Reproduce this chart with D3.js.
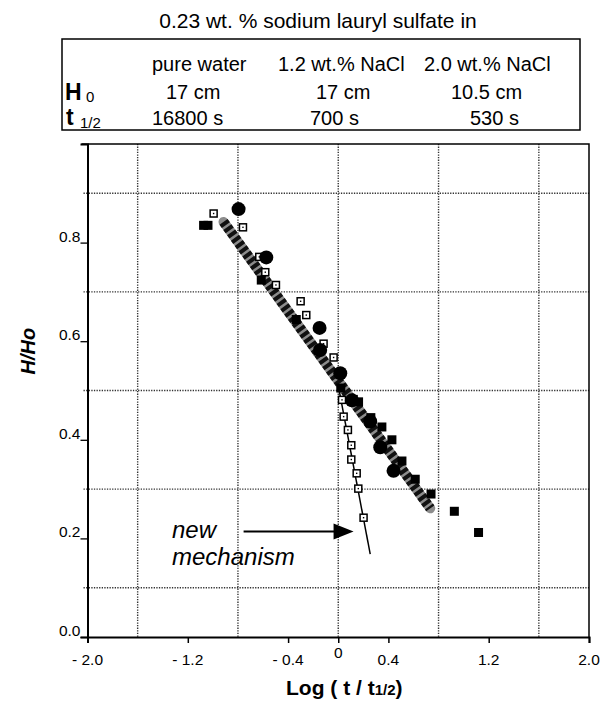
<!DOCTYPE html>
<html>
<head>
<meta charset="utf-8">
<script src="https://cdn.jsdelivr.net/npm/d3@7"></script>
<style>
  body { margin: 0; background: #fff; }
  svg { font-family: "Liberation Sans", Arial, sans-serif; }
</style>
</head>
<body>
<div id="chart"></div>
<script>
// ---- data ----
const tableTitle = '0.23 wt. % sodium lauryl sulfate in';
const solutions = ['pure water', '1.2 wt.% NaCl', '2.0 wt.% NaCl'];
const h0Values = ['17 cm', '17 cm', '10.5 cm'];
const tHalfValues = ['16800 s', '700 s', '530 s'];

const xTicks = [-2.0, -1.2, -0.4, 0, 0.4, 1.2, 2.0];
const xTickLabels = ['- 2.0', '- 1.2', '- 0.4', '0', '0.4', '1.2', '2.0'];
const xGrid = [-1.6, -0.8, 0, 0.8, 1.6];
const yTicks = [0.0, 0.2, 0.4, 0.6, 0.8];
const yGrid = [0.1, 0.3, 0.5, 0.7, 0.9];

// filled circles
const circles = [
  [-0.795, 0.868], [-0.574, 0.770], [-0.149, 0.627], [-0.144, 0.582],
  [0.016, 0.535], [0.109, 0.480], [0.255, 0.437], [0.335, 0.385], [0.441, 0.337]
];
// filled squares
const filledSquares = [
  [-1.074, 0.835], [-1.039, 0.835], [-0.614, 0.724], [-0.335, 0.644],
  [-0.16, 0.580], [0.02, 0.505], [0.12, 0.482], [0.162, 0.477],
  [0.26, 0.445], [0.348, 0.426], [0.428, 0.400], [0.508, 0.357],
  [0.614, 0.320], [0.74, 0.290], [0.926, 0.255], [1.119, 0.212]
];
// open squares with a dot
const openSquares = [
  [-0.994, 0.859], [-0.76, 0.831], [-0.63, 0.771], [-0.582, 0.740],
  [-0.497, 0.714], [-0.30, 0.681], [-0.255, 0.653], [-0.117, 0.595],
  [-0.037, 0.567], [0.03, 0.481], [0.043, 0.447], [0.077, 0.420],
  [0.104, 0.389], [0.104, 0.360], [0.147, 0.332], [0.16, 0.301], [0.202, 0.242]
];

const thickLine = [[-0.915, 0.842], [0.734, 0.261]];
const thinLine = [[0.0, 0.51], [0.255, 0.168]];
const arrowLine = [[-0.755, 0.214], [0.122, 0.214]];

// ---- layout ----
const W = 600, H = 702;
const plot = { left: 87.5, right: 589, top: 144, bottom: 637 };

const svg = d3.select('#chart').append('svg')
  .attr('width', W).attr('height', H);

const x = d3.scaleLinear().domain([-2, 2]).range([plot.left, plot.right]);
const y = d3.scaleLinear().domain([0, 1]).range([plot.bottom, plot.top]);

// ---- table on top ----
svg.append('text')
  .attr('x', 318).attr('y', 28)
  .attr('text-anchor', 'middle')
  .attr('font-size', 21)
  .text(tableTitle);

svg.append('rect')
  .attr('x', 62).attr('y', 39).attr('width', 518).attr('height', 91)
  .attr('fill', 'none').attr('stroke', '#000').attr('stroke-width', 1.5);

const colX = [152, 278, 424];
const h0X = [166, 316, 451];
const tX = [152, 310, 470];

svg.selectAll('.sol').data(solutions).enter().append('text')
  .attr('x', (d, i) => colX[i]).attr('y', 71)
  .attr('font-size', 20).text(d => d);

svg.selectAll('.h0').data(h0Values).enter().append('text')
  .attr('x', (d, i) => h0X[i]).attr('y', 99)
  .attr('font-size', 20).text(d => d);

svg.selectAll('.th').data(tHalfValues).enter().append('text')
  .attr('x', (d, i) => tX[i]).attr('y', 125)
  .attr('font-size', 20).text(d => d);

svg.append('text').attr('x', 65).attr('y', 100)
  .attr('font-size', 23).attr('font-weight', 'bold').text('H');
svg.append('text').attr('x', 86).attr('y', 102)
  .attr('font-size', 15).text('0');
svg.append('text').attr('x', 66).attr('y', 125)
  .attr('font-size', 23).attr('font-weight', 'bold').text('t');
svg.append('text').attr('x', 80).attr('y', 128)
  .attr('font-size', 15).text('1/2');

// ---- grid ----
const grid = svg.append('g').attr('class', 'grid')
  .attr('stroke', '#333').attr('stroke-width', 1.4)
  .attr('stroke-dasharray', '1.3,1.3');

grid.selectAll('.vg').data(xGrid).enter().append('line')
  .attr('x1', d => x(d)).attr('x2', d => x(d))
  .attr('y1', plot.top).attr('y2', plot.bottom);

grid.selectAll('.hg').data(yGrid).enter().append('line')
  .attr('x1', plot.left - 4).attr('x2', plot.right)
  .attr('y1', d => y(d)).attr('y2', d => y(d));

// ---- frame (top + right) ----
svg.append('path')
  .attr('d', `M${plot.left - 6},${plot.top} H${plot.right} V${plot.bottom}`)
  .attr('fill', 'none').attr('stroke', '#000').attr('stroke-width', 1.5);

// ---- axes ----
const xAxis = svg.append('g')
  .attr('transform', `translate(0,${plot.bottom})`)
  .call(d3.axisBottom(x).tickValues(xTicks).tickSize(6).tickFormat(''));
xAxis.select('.domain').attr('stroke-width', 2);
xAxis.selectAll('.tick line').attr('stroke-width', 1.5);

svg.selectAll('.xlab').data(xTicks).enter().append('text')
  .attr('x', d => x(d))
  .attr('y', d => d === 0 ? plot.bottom + 21 : plot.bottom + 28)
  .attr('text-anchor', 'middle')
  .attr('font-size', 15.5)
  .text((d, i) => xTickLabels[i]);

const yAxis = svg.append('g')
  .attr('transform', `translate(${plot.left},0)`)
  .call(d3.axisLeft(y).tickValues(yTicks).tickSize(7).tickFormat(''));
yAxis.select('.domain').attr('stroke-width', 2);
yAxis.selectAll('.tick line').attr('stroke-width', 1.3);

svg.selectAll('.ylab').data(yTicks).enter().append('text')
  .attr('x', plot.left - 7)
  .attr('y', d => y(d) - 1)
  .attr('text-anchor', 'end')
  .attr('font-size', 15.5)
  .text(d => d.toFixed(1));

// axis titles
const xt = svg.append('text')
  .attr('x', x(0) + 6).attr('y', 695)
  .attr('text-anchor', 'middle')
  .attr('font-size', 21).attr('font-weight', 'bold');
xt.append('tspan').text('Log ( t / t');
xt.append('tspan').attr('font-size', 15).text('1/2');
xt.append('tspan').text(')');

svg.append('text')
  .attr('transform', `translate(35,${y(0.58)}) rotate(-90)`)
  .attr('text-anchor', 'middle')
  .attr('font-size', 20).attr('font-weight', 'bold').attr('font-style', 'italic')
  .text('H/Ho');

// ---- fitted lines ----
const line = d3.line().x(d => x(d[0])).y(d => y(d[1]));

// striped thick line: grey base with black dashes on top
svg.append('path').attr('d', line(thickLine))
  .attr('stroke', '#8c8c8c').attr('stroke-width', 10)
  .attr('stroke-linecap', 'round').attr('fill', 'none');
svg.append('path').attr('d', line(thickLine))
  .attr('stroke', '#111').attr('stroke-width', 10)
  .attr('stroke-dasharray', '4,2.5').attr('fill', 'none');

svg.append('path').attr('d', line(thinLine))
  .attr('stroke', '#000').attr('stroke-width', 1.5).attr('fill', 'none');

// ---- markers ----
svg.selectAll('.fsq').data(filledSquares).enter().append('rect')
  .attr('x', d => x(d[0]) - 4.5).attr('y', d => y(d[1]) - 4.5)
  .attr('width', 9).attr('height', 9).attr('fill', '#000');

svg.selectAll('.osq').data(openSquares).enter().append('rect')
  .attr('x', d => x(d[0]) - 3.5).attr('y', d => y(d[1]) - 3.5)
  .attr('width', 7).attr('height', 7)
  .attr('fill', '#fff').attr('stroke', '#000').attr('stroke-width', 1.5);
svg.selectAll('.odot').data(openSquares).enter().append('rect')
  .attr('x', d => x(d[0]) - 0.7).attr('y', d => y(d[1]) - 0.7)
  .attr('width', 1.4).attr('height', 1.4).attr('fill', '#000');

svg.selectAll('.circ').data(circles).enter().append('circle')
  .attr('cx', d => x(d[0])).attr('cy', d => y(d[1]))
  .attr('r', 7).attr('fill', '#000');

// ---- annotation ----
const ax1 = x(arrowLine[0][0]), ax2 = x(arrowLine[1][0]), ay = y(arrowLine[0][1]);
svg.append('line')
  .attr('x1', ax1).attr('x2', ax2 - 18).attr('y1', ay).attr('y2', ay)
  .attr('stroke', '#000').attr('stroke-width', 2);
svg.append('path')
  .attr('d', `M${ax2},${ay} L${ax2 - 20},${ay - 8} L${ax2 - 20},${ay + 8} Z`)
  .attr('fill', '#000');

svg.append('text').attr('x', 172).attr('y', 538)
  .attr('font-size', 24).attr('font-style', 'italic').text('new');
svg.append('text').attr('x', 172).attr('y', 565)
  .attr('font-size', 24).attr('font-style', 'italic').text('mechanism');
</script>
</body>
</html>
